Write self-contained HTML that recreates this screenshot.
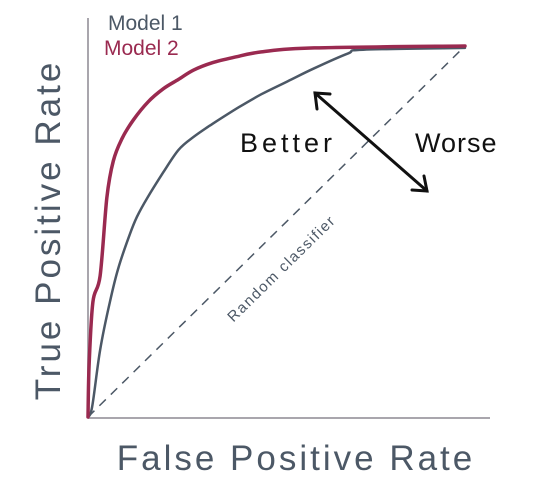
<!DOCTYPE html>
<html><head><meta charset="utf-8"><style>
body{margin:0;background:#fff;}
svg{display:block;font-family:"Liberation Sans",sans-serif;}
</style></head><body>
<svg id="chart" width="533" height="483">
<line x1="88" y1="18" x2="88" y2="418" stroke="#a9a6ad" stroke-width="2"/>
<line x1="88" y1="418" x2="490" y2="418" stroke="#a9a6ad" stroke-width="2"/>
<line x1="88" y1="417" x2="465" y2="46" stroke="#4c5866" stroke-width="1.5" stroke-dasharray="9,7"/>
<text x="0" y="0" transform="translate(285,272) rotate(-44.5)" text-anchor="middle" font-size="15" letter-spacing="1.5" fill="#4c5866">Random classifier</text>
<g id="series"></g>
<text x="108" y="30" font-size="21" fill="#4c5866">Model 1</text>
<text x="104" y="55" font-size="21" fill="#9a2a50">Model 2</text>
<text x="240" y="152" font-size="27" letter-spacing="4" fill="#111">Better</text>
<text x="415" y="152" font-size="27" letter-spacing="1" fill="#111">Worse</text>
<g stroke="#111" stroke-width="3" fill="none" stroke-linecap="round">
<line x1="315" y1="93" x2="427" y2="191"/>
<polyline points="330,94 315,93 317,109"/>
<polyline points="412,190 427,191 424,176"/>
</g>
<text x="0" y="0" transform="translate(60,230) rotate(-90)" text-anchor="middle" font-size="35" letter-spacing="3" fill="#4c5866">True Positive Rate</text>
<text x="296" y="470" text-anchor="middle" font-size="35" letter-spacing="3" fill="#4c5866">False Positive Rate</text>
</svg>
<script>
const model1FPR=[0,0.011,0.032,0.058,0.08,0.11,0.13,0.157,0.2,0.24,0.28,0.33,0.4,0.46,0.53,0.6,0.69,0.73,1];
const model1TPR=[0,0.027,0.18,0.31,0.40,0.49,0.54,0.59,0.66,0.72,0.755,0.79,0.835,0.87,0.905,0.94,0.98,0.99,0.995];
const model2FPR=[0,0.003,0.013,0.032,0.05,0.067,0.09,0.12,0.16,0.2,0.24,0.28,0.33,0.39,0.46,0.6,1];
const model2TPR=[0,0.14,0.31,0.38,0.59,0.69,0.75,0.80,0.85,0.885,0.91,0.935,0.955,0.97,0.984,0.995,1];
const X0=88,X1=465,Y0=417,Y1=46;
function xs(v){return X0+v*(X1-X0);}
function ys(v){return Y0-v*(Y0-Y1);}
const g=document.getElementById('series');
function draw(fx,ty,color,w,name){
  const p=document.createElementNS('http://www.w3.org/2000/svg','path');
  const pts=fx.map((f,i)=>[xs(f),ys(ty[i])]);
  let d='M'+pts[0][0].toFixed(1)+','+pts[0][1].toFixed(1);
  for(let i=0;i<pts.length-1;i++){
    const p0=pts[Math.max(0,i-1)],p1=pts[i],p2=pts[i+1],p3=pts[Math.min(pts.length-1,i+2)];
    const c1=[p1[0]+(p2[0]-p0[0])/6,p1[1]+(p2[1]-p0[1])/6];
    const c2=[p2[0]-(p3[0]-p1[0])/6,p2[1]-(p3[1]-p1[1])/6];
    d+='C'+c1[0].toFixed(1)+','+c1[1].toFixed(1)+' '+c2[0].toFixed(1)+','+c2[1].toFixed(1)+' '+p2[0].toFixed(1)+','+p2[1].toFixed(1);
  }
  p.setAttribute('d',d);
  p.setAttribute('fill','none');
  p.setAttribute('stroke',color);
  p.setAttribute('stroke-width',w);
  p.setAttribute('stroke-linejoin','round');
  p.setAttribute('stroke-linecap','round');
  
  
  g.appendChild(p);
}
draw(model1FPR,model1TPR,'#4c5866',2.5,'model-1-curve');
draw(model2FPR,model2TPR,'#9a2a50',3.5,'model-2-curve');
</script>
</body></html>
